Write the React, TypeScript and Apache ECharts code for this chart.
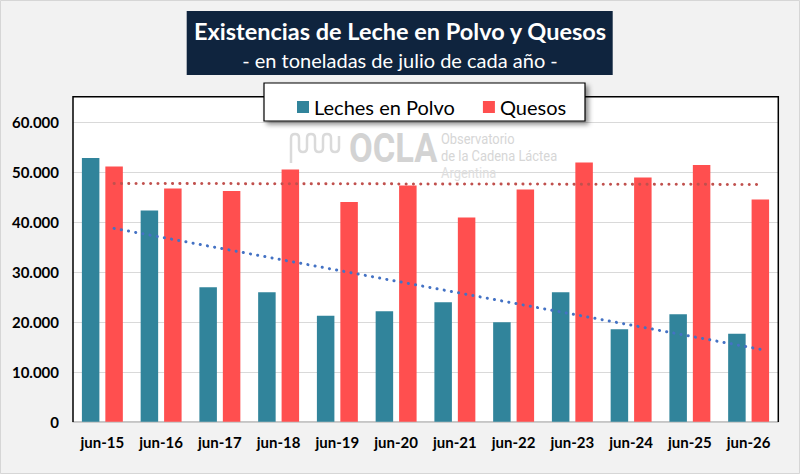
import { useRef, useEffect } from 'react'
import * as echarts from 'echarts'

const categories = ['jun-15', 'jun-16', 'jun-17', 'jun-18', 'jun-19', 'jun-20', 'jun-21', 'jun-22', 'jun-23', 'jun-24', 'jun-25', 'jun-26'];
const lechesPolvo = [52800, 42300, 26900, 25900, 21200, 22100, 23900, 19900, 25900, 18500, 21500, 17600];
const quesos = [51100, 46700, 46200, 50500, 44000, 47300, 40900, 46500, 51900, 48900, 51400, 44500];
// tendencia lineal: valor en jun-15 y en jun-26
const trendPolvo = [38700, 14500];
const trendQuesos = [47700, 47500];

const FONT = 'Lato, "Open Sans", sans-serif';

const logoPath =
  'M2 30 L2 5 Q2 1 6 1 Q10 1 10 5 L10 15 Q10 19 14 19 Q18 19 18 15 L18 5 Q18 1 22 1 Q26 1 26 5 ' +
  'L26 15 Q26 19 30 19 Q34 19 34 15 L34 5 Q34 1 38 1 Q42 1 42 5 L42 15 Q42 19 46 19 Q50 19 50 15 L50 3';

function App() {
  const chartRef = useRef<HTMLDivElement>(null);

  useEffect(() => {
    if (!chartRef.current) return;
    echarts.graphic.registerShape('oclaLogo', echarts.graphic.extendPath(logoPath, {}));
    const myChart = echarts.init(chartRef.current, null, { renderer: 'svg' });

    const option = {
      animation: false,
      backgroundColor: '#F2F2F2',
      textStyle: { fontFamily: FONT },
      grid: { left: 73, right: 22, top: 122, bottom: 52.3, containLabel: false },
      legend: {
        left: 292,
        top: 91,
        itemWidth: 12,
        itemHeight: 12,
        itemGap: 28,
        icon: 'rect',
        textStyle: { fontSize: 20, color: '#000', fontFamily: FONT, lineHeight: 22 },
        data: ['Leches en Polvo', 'Quesos'],
      },
      graphic: [
        { type: 'rect', silent: true, z: -10, shape: { x: 0.5, y: 0.5, width: 799, height: 473 },
          style: { fill: 'none', stroke: '#D6D6D6', lineWidth: 1 } },
        { type: 'rect', silent: true, z: -5, shape: { x: 73, y: 96.7, width: 705.3, height: 325 },
          style: { fill: '#FFFFFF' } },
        { type: 'polyline', silent: true, z: 3, shape: { points: [[73, 422], [73, 96.7], [778.3, 96.7], [778.3, 422]] },
          style: { fill: 'none', stroke: '#000', lineWidth: 1.5 } },
        { type: 'oclaLogo', silent: true, z: 1, x: 289, y: 133,
          style: { fill: 'none', stroke: '#DADADA', lineWidth: 2.5, lineJoin: 'round' } },
        { type: 'text', silent: true, z: 1, x: 349, y: 148, scaleX: 0.84,
          style: { text: 'OCLA', font: 'bold 41px Roboto, sans-serif', fill: '#D3D3D3', textVerticalAlign: 'middle' } },
        { type: 'text', silent: true, z: 1, x: 441, y: 139, scaleX: 0.86,
          style: { text: 'Observatorio', font: '15px Roboto, sans-serif', fill: '#D6D6D6', textVerticalAlign: 'middle' } },
        { type: 'text', silent: true, z: 1, x: 441, y: 156, scaleX: 0.86,
          style: { text: 'de la Cadena Láctea', font: '15px Roboto, sans-serif', fill: '#D6D6D6', textVerticalAlign: 'middle' } },
        { type: 'text', silent: true, z: 1, x: 441, y: 173, scaleX: 0.86,
          style: { text: 'Argentina', font: '15px Roboto, sans-serif', fill: '#DEDEDE', textVerticalAlign: 'middle' } },
        { type: 'rect', silent: true, z: 4, shape: { x: 186.7, y: 11, width: 426, height: 64 },
          style: { fill: '#0F243E' } },
        { type: 'text', silent: true, z: 5, x: 400, y: 31,
          style: { text: 'Existencias de Leche en Polvo y Quesos', font: `bold 23.5px ${FONT}`, fill: '#FFFFFF',
            textAlign: 'center', textVerticalAlign: 'middle' } },
        { type: 'text', silent: true, z: 5, x: 400, y: 60,
          style: { text: '- en toneladas de julio de cada año -', font: `20px ${FONT}`, fill: '#FFFFFF',
            textAlign: 'center', textVerticalAlign: 'middle' } },
        { type: 'rect', silent: true, z: 3, shape: { x: 264, y: 83, width: 321, height: 38 },
          style: { fill: '#FFFFFF', stroke: '#000', lineWidth: 1.2, shadowBlur: 5, shadowOffsetX: 3, shadowOffsetY: 3,
            shadowColor: 'rgba(0,0,0,0.45)' } },
      ],
      xAxis: {
        type: 'category',
        data: categories,
        axisLine: { show: true, lineStyle: { color: '#BFBFBF', width: 1.5 } },
        axisTick: { show: false },
        axisLabel: { interval: 0, margin: 13, fontSize: 15, fontWeight: 'bold', color: '#000', fontFamily: FONT },
      },
      yAxis: {
        type: 'value',
        min: 0,
        max: 60000,
        interval: 10000,
        axisLine: { show: false },
        axisTick: { show: false },
        splitLine: { lineStyle: { color: '#D9D9D9', width: 1.2 } },
        axisLabel: {
          margin: 14, fontSize: 15, fontWeight: 'bold', color: '#000', fontFamily: FONT,
          formatter: (v: number) => (v === 0 ? '0' : `${v / 1000}.000`),
        },
      },
      series: [
        {
          name: 'Leches en Polvo',
          type: 'bar',
          data: lechesPolvo,
          barWidth: 17.5,
          barGap: '34%',
          itemStyle: { color: '#31849B' },
        },
        {
          name: 'Quesos',
          type: 'bar',
          data: quesos,
          barWidth: 17.5,
          itemStyle: { color: '#FF4F4F' },
          markLine: {
            silent: true,
            symbol: ['none', 'none'],
            label: { show: false },
            z: 5,
            data: [
              [
                { coord: [categories[0], trendQuesos[0]], lineStyle: { color: '#C0504D' } },
                { coord: [categories[categories.length - 1], trendQuesos[1]] },
              ],
              [
                { coord: [categories[0], trendPolvo[0]], lineStyle: { color: '#4472C4' } },
                { coord: [categories[categories.length - 1], trendPolvo[1]] },
              ],
            ],
            lineStyle: { type: [0.1, 7.2], width: 3, cap: 'round' },
          },
        },
      ],
    };
    myChart.setOption(option);

    return () => {
      myChart.dispose();
    };
  }, []);

  return (
    <div ref={chartRef} style={{ position: 'fixed', left: 0, top: 0, width: '800px', height: '474px' }}></div>
  )
}

export default App
